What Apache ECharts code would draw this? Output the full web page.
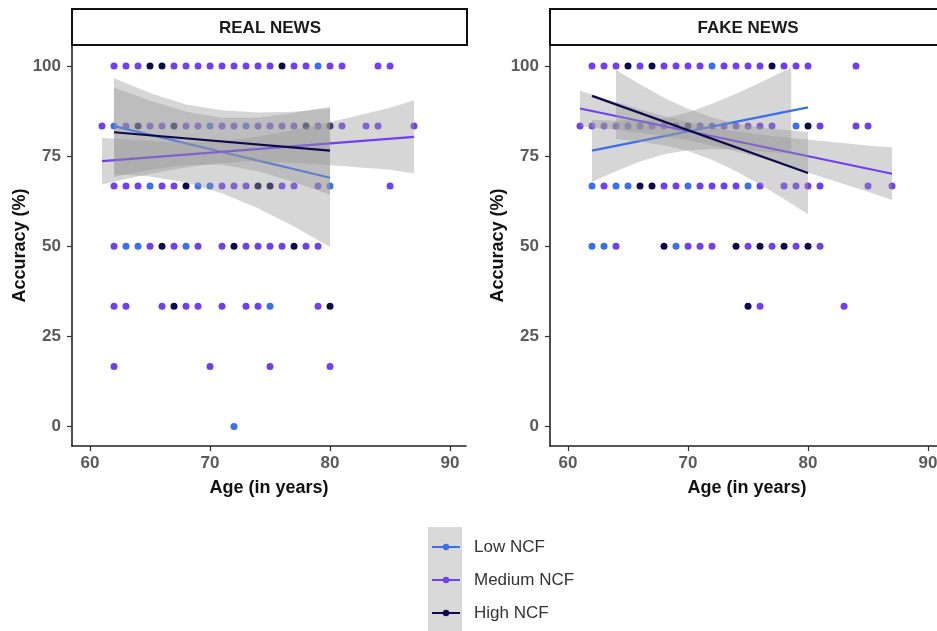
<!DOCTYPE html>
<html>
<head>
<meta charset="utf-8">
<script src="https://cdn.jsdelivr.net/npm/echarts@6/dist/echarts.min.js"></script>
<style>
html,body{margin:0;padding:0;background:#fff;}
#chart{width:937px;height:631px;}
</style>
</head>
<body>
<div id="chart"></div>
<script>
// ---------- DATA ----------
const panels = ['REAL NEWS', 'FAKE NEWS'];
const groups = ['Low NCF', 'Medium NCF', 'High NCF'];
const accuracyLevels = [100, 83.33, 66.67, 50, 33.33, 16.67, 0];
const xTicks = [60, 70, 80, 90];
const yTicks = [0, 25, 50, 75, 100];

// ages of respondents at each accuracy level (row order = accuracyLevels)
const realLowAges = [[79], [62, 70, 73], [65, 69, 70, 80], [63, 64, 68], [75], [], [72]];
const realMediumAges = [
  [62, 63, 64, 67, 68, 69, 70, 71, 72, 73, 74, 75, 77, 78, 80, 81, 84, 85],
  [61, 63, 65, 66, 68, 69, 71, 72, 74, 75, 76, 77, 79, 81, 83, 84, 87],
  [62, 63, 64, 66, 67, 71, 72, 73, 76, 77, 79, 85],
  [62, 65, 67, 69, 71, 73, 74, 75, 76, 78, 79],
  [62, 63, 66, 68, 69, 71, 73, 74, 79],
  [62, 70, 75, 80],
  []
];
const realHighAges = [[65, 66, 76], [64, 67, 78, 80], [68, 74, 75], [66, 72, 77], [67, 80], [], []];

const fakeLowAges = [[72], [79], [62, 64, 65, 70, 75], [62, 63, 69], [], [], []];
const fakeMediumAges = [
  [62, 63, 64, 66, 68, 69, 70, 71, 73, 74, 75, 76, 78, 79, 80, 84],
  [61, 62, 63, 64, 65, 66, 67, 68, 69, 71, 72, 73, 74, 75, 76, 77, 81, 84, 85],
  [63, 68, 69, 71, 72, 73, 74, 76, 78, 79, 80, 81, 85, 87],
  [64, 70, 71, 72, 75, 77, 79, 81],
  [76, 83],
  [],
  []
];
const fakeHighAges = [[65, 67, 77], [70, 80], [66, 67], [68, 74, 76, 78, 80], [75], [], []];

// fitted lines (endpoints)
const realLowLineX = [62, 80],    realLowLineY = [83.3, 69.0];
const realMediumLineX = [61, 87], realMediumLineY = [73.6, 80.3];
const realHighLineX = [62, 80],   realHighLineY = [81.6, 76.5];
const fakeLowLineX = [62, 80],    fakeLowLineY = [76.5, 88.5];
const fakeMediumLineX = [61, 87], fakeMediumLineY = [88.2, 70.1];
const fakeHighLineX = [62, 80],   fakeHighLineY = [91.7, 70.3];

// confidence bands
const realLowBandX = [62, 65, 68, 71, 74, 77, 80];
const realLowBandLo = [70.0, 69.3, 67.7, 64.7, 60.5, 55.5, 49.8];
const realLowBandHi = [96.6, 92.5, 89.3, 87.7, 87.1, 87.3, 88.2];
const realMediumBandX = [61, 64, 67, 70, 73, 76, 79, 82, 85, 87];
const realMediumBandLo = [67.1, 69.4, 71.3, 72.8, 73.5, 73.3, 72.7, 72.0, 71.2, 70.2];
const realMediumBandHi = [80.1, 79.4, 78.9, 79.0, 79.9, 81.6, 83.7, 86.0, 88.4, 90.5];
const realHighBandX = [62, 65, 68, 71, 74, 77, 80];
const realHighBandLo = [69.2, 71.2, 72.5, 72.6, 70.8, 67.8, 64.3];
const realHighBandHi = [94.0, 90.4, 87.3, 85.6, 85.6, 87.0, 88.7];

const fakeLowBandX = [62, 64, 66, 68, 70, 72, 74, 76, 78, 78.6];
const fakeLowBandLo = [67.9, 70.8, 73.5, 75.5, 76.6, 76.9, 76.8, 76.3, 75.8, 75.7];
const fakeLowBandHi = [85.1, 84.8, 84.9, 85.5, 87.1, 89.5, 92.3, 95.3, 98.6, 99.5];
const fakeMediumBandX = [61, 64, 67, 70, 73, 76, 79, 82, 85, 87];
const fakeMediumBandLo = [83.3, 82.3, 81.0, 79.4, 77.2, 74.5, 71.5, 68.3, 65.1, 62.8];
const fakeMediumBandHi = [93.1, 90.0, 87.0, 84.4, 82.4, 80.9, 79.9, 78.9, 77.9, 77.4];
const fakeHighBandX = [64, 66, 68, 70, 72, 74, 76, 78, 80];
const fakeHighBandLo = [79.7, 79.0, 78.0, 76.4, 74.0, 70.8, 67.1, 63.1, 58.9];
const fakeHighBandHi = [98.9, 94.9, 91.2, 88.1, 85.7, 84.0, 83.0, 82.3, 81.7];

// ---------- STYLE ----------
const colors = {'Low NCF': '#3a6ff0', 'Medium NCF': '#7040ee', 'High NCF': '#0f0b4a'};
const FONT = '"Liberation Sans", Arial, sans-serif';

const panelData = [
  {
    ages: [realLowAges, realMediumAges, realHighAges],
    lines: [[realLowLineX, realLowLineY], [realMediumLineX, realMediumLineY], [realHighLineX, realHighLineY]],
    bands: [[realLowBandX, realLowBandLo, realLowBandHi], [realMediumBandX, realMediumBandLo, realMediumBandHi], [realHighBandX, realHighBandLo, realHighBandHi]]
  },
  {
    ages: [fakeLowAges, fakeMediumAges, fakeHighAges],
    lines: [[fakeLowLineX, fakeLowLineY], [fakeMediumLineX, fakeMediumLineY], [fakeHighLineX, fakeHighLineY]],
    bands: [[fakeLowBandX, fakeLowBandLo, fakeLowBandHi], [fakeMediumBandX, fakeMediumBandLo, fakeMediumBandHi], [fakeHighBandX, fakeHighBandLo, fakeHighBandHi]]
  }
];

const gridLefts = [72, 550];
const gridTop = 45, gridH = 401, gridW = 394;

const grids = gridLefts.map(l => ({left: l, top: gridTop, width: gridW, height: gridH, outerBoundsMode: 'none', containLabel: false}));

const xAxes = gridLefts.map((l, i) => ({
  type: 'value', gridIndex: i, min: 58.5, max: 91.33,
  axisLine: {show: true, onZero: false, lineStyle: {color: '#222', width: 1.6}},
  axisTick: {show: true, length: 5, lineStyle: {color: '#333', width: 1.2}, customValues: xTicks},
  axisLabel: {color: '#5a5a5a', fontSize: 17, fontWeight: 'bold', fontFamily: FONT, margin: 9, customValues: xTicks},
  splitLine: {show: false},
  name: 'Age (in years)', nameLocation: 'middle', nameGap: 33,
  nameTextStyle: {fontSize: 18, fontWeight: 'bold', color: '#111', fontFamily: FONT}
}));

const yAxes = gridLefts.map((l, i) => ({
  type: 'value', gridIndex: i, min: -5.4, max: 105.8,
  axisLine: {show: true, onZero: false, lineStyle: {color: '#222', width: 1.6}},
  axisTick: {show: true, length: 5, lineStyle: {color: '#333', width: 1.2}, customValues: yTicks},
  axisLabel: {color: '#5a5a5a', fontSize: 17, fontWeight: 'bold', fontFamily: FONT, margin: 11, customValues: yTicks},
  splitLine: {show: false},
  name: 'Accuracy (%)', nameLocation: 'middle', nameGap: 39, nameRotate: 90,
  nameTextStyle: {fontSize: 18, fontWeight: 'bold', color: '#111', fontFamily: FONT}
}));

const series = [];
// line series first (legend icons come from them)
panelData.forEach((p, pi) => {
  groups.forEach((g, gi) => {
    const [lx, ly] = p.lines[gi];
    series.push({
      type: 'line', name: g, xAxisIndex: pi, yAxisIndex: pi,
      data: lx.map((x, k) => [x, ly[k]]),
      symbol: 'circle', symbolSize: 7, showSymbol: false, silent: true,
      lineStyle: {color: colors[g], width: 2.2}, itemStyle: {color: colors[g]},
      z: 3 + gi * 2, animation: false
    });
  });
});
// bands
panelData.forEach((p, pi) => {
  groups.forEach((g, gi) => {
    const [bx, lo, hi] = p.bands[gi];
    series.push({
      type: 'custom', xAxisIndex: pi, yAxisIndex: pi, silent: true,
      z: 2 + gi * 2, animation: false,
      data: [[bx[0], lo[0]]],
      renderItem: function (params, api) {
        const pts = [];
        for (let k = 0; k < bx.length; k++) pts.push(api.coord([bx[k], hi[k]]));
        for (let k = bx.length - 1; k >= 0; k--) pts.push(api.coord([bx[k], lo[k]]));
        return {type: 'polygon', shape: {points: pts}, style: {fill: 'rgba(153,153,153,0.4)', stroke: null}};
      }
    });
  });
});
// points
panelData.forEach((p, pi) => {
  groups.forEach((g, gi) => {
    const pts = [];
    p.ages[gi].forEach((row, ri) => row.forEach(a => pts.push([a, accuracyLevels[ri]])));
    series.push({
      type: 'scatter', name: g, xAxisIndex: pi, yAxisIndex: pi,
      data: pts, symbol: 'circle', symbolSize: 7, silent: true,
      itemStyle: {color: colors[g], opacity: 1}, z: 1, animation: false
    });
  });
});

const graphic = [
  {type: 'rect', left: 428, top: 527, shape: {width: 34, height: 110}, style: {fill: '#d9d9d9'}, z: 0, silent: true}
];
panelData.forEach((p, pi) => {
  graphic.push({type: 'rect', shape: {x: gridLefts[pi], y: 9, width: gridW + 1, height: 36}, style: {fill: '#fff', stroke: '#111', lineWidth: 2}, z: 10, silent: true});
  graphic.push({type: 'text', x: gridLefts[pi] + 198, y: 28, style: {text: panels[pi], fill: '#1a1a1a', font: 'bold 17px ' + FONT, textAlign: 'center', textVerticalAlign: 'middle'}, z: 11, silent: true});
});

const chart = echarts.init(document.getElementById('chart'), null, {renderer: 'canvas'});
chart.setOption({
  animation: false,
  backgroundColor: '#fff',
  grid: grids,
  xAxis: xAxes,
  yAxis: yAxes,
  legend: {
    data: groups, orient: 'vertical', left: 431, top: 538, width: 200, height: 100, padding: 0,
    itemWidth: 28, itemHeight: 8, itemGap: 15, selectedMode: false,
    textStyle: {fontSize: 17, color: '#333', fontFamily: FONT, lineHeight: 18, padding: [0, 0, 0, 9]}
  },
  graphic: graphic,
  series: series
});
</script>
</body>
</html>
